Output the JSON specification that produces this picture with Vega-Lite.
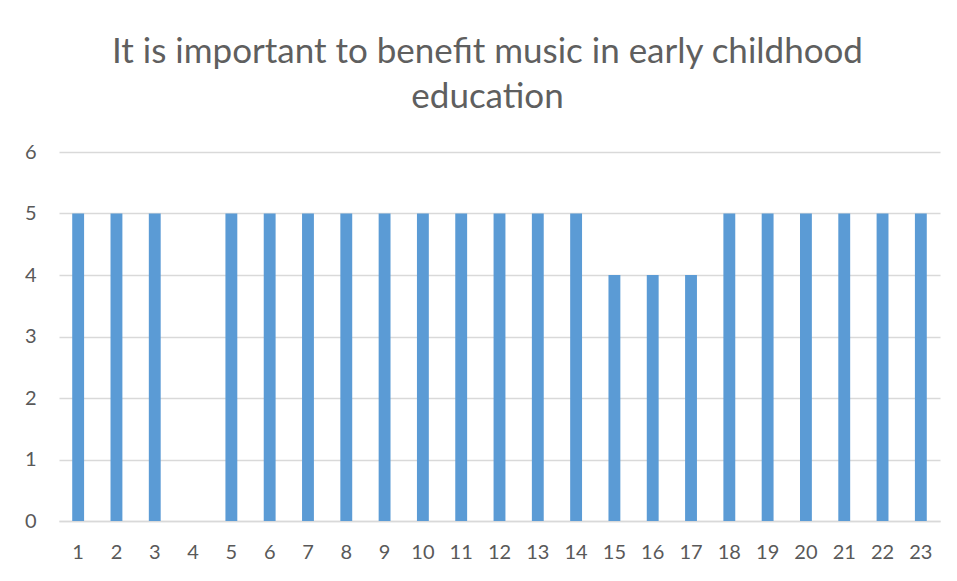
{
  "$schema": "https://vega.github.io/schema/vega-lite/v6.json",
  "autosize": {"type": "none"},
  "width": 881,
  "height": 369,
  "padding": {"left": 59, "top": 152, "right": 17, "bottom": 60},
  "background": "white",
  "title": {
    "text": ["It is important to benefit music in early childhood", "education"],
    "font": "Lato",
    "fontSize": 35,
    "fontWeight": "normal",
    "color": "#5f5f5f",
    "lineHeight": 45,
    "anchor": "middle",
    "baseline": "bottom",
    "dx": -12,
    "offset": -8
  },
  "data": {
    "values": [
      {"item": 1, "score": 5}, {"item": 2, "score": 5}, {"item": 3, "score": 5},
      {"item": 4, "score": 0}, {"item": 5, "score": 5}, {"item": 6, "score": 5},
      {"item": 7, "score": 5}, {"item": 8, "score": 5}, {"item": 9, "score": 5},
      {"item": 10, "score": 5}, {"item": 11, "score": 5}, {"item": 12, "score": 5},
      {"item": 13, "score": 5}, {"item": 14, "score": 5}, {"item": 15, "score": 4},
      {"item": 16, "score": 4}, {"item": 17, "score": 4}, {"item": 18, "score": 5},
      {"item": 19, "score": 5}, {"item": 20, "score": 5}, {"item": 21, "score": 5},
      {"item": 22, "score": 5}, {"item": 23, "score": 5}
    ]
  },
  "mark": {"type": "bar", "color": "#5B9BD5"},
  "encoding": {
    "x": {
      "field": "item",
      "type": "ordinal",
      "sort": "ascending",
      "scale": {"paddingInner": 0.69, "paddingOuter": 0.345},
      "axis": {
        "title": null,
        "labelAngle": 0,
        "labelFont": "Lato",
        "labelFontSize": 20,
        "labelColor": "#595959",
        "labelPadding": 21,
        "ticks": false,
        "domain": true,
        "domainColor": "#D9D9D9",
        "domainWidth": 1.5
      }
    },
    "y": {
      "field": "score",
      "type": "quantitative",
      "scale": {"domain": [0, 6]},
      "axis": {
        "title": null,
        "values": [0, 1, 2, 3, 4, 5, 6],
        "labelFont": "Lato",
        "labelFontSize": 20,
        "labelColor": "#595959",
        "labelPadding": 23,
        "labelOverlap": false,
        "ticks": false,
        "domain": false,
        "grid": true,
        "gridColor": "#D9D9D9",
        "gridWidth": 1.5
      }
    }
  },
  "config": {"view": {"stroke": null}}
}
